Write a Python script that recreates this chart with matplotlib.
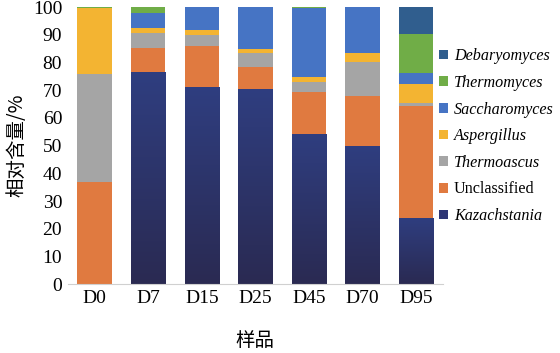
import matplotlib
matplotlib.use("Agg")
import matplotlib.pyplot as plt
import numpy as np
from matplotlib.colors import LinearSegmentedColormap

samples = ["D0", "D7", "D15", "D25", "D45", "D70", "D95"]
kazachstania = [0.0, 76.4, 71.3, 70.6, 54.2, 49.9, 23.9]
unclassified = [37.0, 8.9, 14.6, 7.9, 15.0, 18.1, 40.5]
thermoascus = [38.8, 5.2, 3.9, 4.8, 3.7, 12.1, 0.8]
aspergillus = [23.7, 2.1, 2.1, 1.6, 1.9, 3.4, 7.0]
saccharomyces = [0.0, 5.4, 8.1, 15.1, 25.0, 16.5, 4.1]
thermomyces = [0.5, 2.0, 0.0, 0.0, 0.2, 0.0, 14.0]
debaryomyces = [0.0, 0.0, 0.0, 0.0, 0.0, 0.0, 9.7]

series = [
    ("Kazachstania", kazachstania, "#2E3675", True),
    ("Unclassified", unclassified, "#E07A40", False),
    ("Thermoascus", thermoascus, "#A5A5A5", True),
    ("Aspergillus", aspergillus, "#F3B432", True),
    ("Saccharomyces", saccharomyces, "#4674C4", True),
    ("Thermomyces", thermomyces, "#70AD47", True),
    ("Debaryomyces", debaryomyces, "#305E8E", True),
]

plt.rcParams['font.family'] = ['Liberation Serif', 'Noto Sans CJK SC']

fig = plt.figure(figsize=(5.6, 3.53), dpi=100)
ax = fig.add_axes([0.121, 0.195, 0.670, 0.785])

x = np.arange(len(samples))
bottom = np.zeros(len(samples))
handles = []
grad_cmap = LinearSegmentedColormap.from_list("g", ["#2A2A52", "#2F3E80"])
for name, vals, color, italic in series:
    vals = np.array(vals)
    bars = ax.bar(x, vals, width=0.64, bottom=bottom, color=color,
                  edgecolor="none", label=name)
    if name == "Kazachstania":
        for b in bars:
            if b.get_height() <= 0:
                continue
            x0, y0 = b.get_x(), b.get_y()
            w, h = b.get_width(), b.get_height()
            grad = np.linspace(0, 1, 256).reshape(-1, 1)
            im = ax.imshow(grad, cmap=grad_cmap, origin="lower", aspect="auto",
                           extent=[x0, x0 + w, y0, y0 + h], zorder=2)
            im.set_clip_path(b)
    handles.append(bars)
    bottom += vals

ax.set_xlim(-0.5, len(samples) - 0.5)
ax.set_ylim(0, 100)
ax.set_yticks(np.arange(0, 101, 10))
ax.set_xticks(x)
ax.set_xticklabels(samples)
ax.tick_params(axis="both", length=0, labelsize=14, pad=4)
for s in ["top", "right", "left"]:
    ax.spines[s].set_visible(False)
ax.spines["bottom"].set_color("#D0D0D0")
ax.spines["bottom"].set_linewidth(0.8)

ax.set_ylabel("相对含量/%", fontsize=14, family=['Noto Sans CJK SC'], labelpad=4)
ax.set_xlabel("样品", fontsize=14, family=['Noto Sans CJK SC'], labelpad=17)

leg = ax.legend(handles[::-1], [s[0] for s in series][::-1],
                loc="center left", bbox_to_anchor=(0.99, 0.534), frameon=False,
                fontsize=11.6, handlelength=0.55, handleheight=0.55,
                handletextpad=0.35, labelspacing=0.66, borderaxespad=0.0,
                borderpad=0.0)
for t, s in zip(leg.get_texts(), series[::-1]):
    if s[3]:
        t.set_style("italic")

fig.savefig("out.png", dpi=100)
